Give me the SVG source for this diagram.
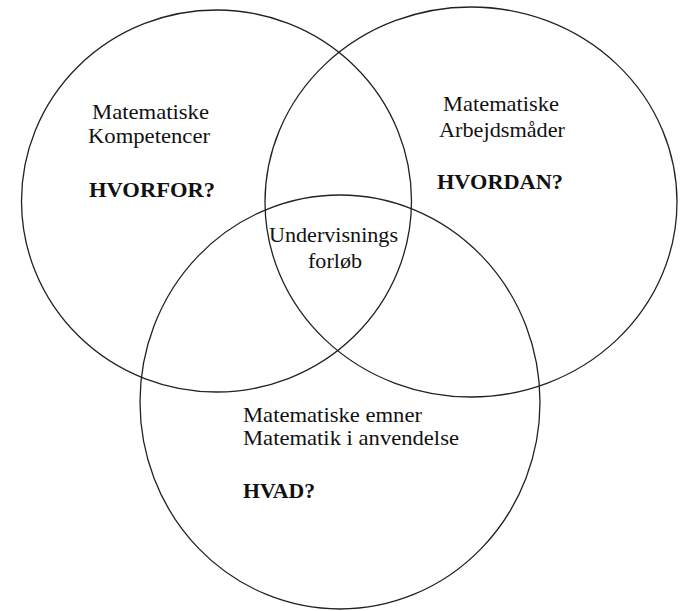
<svg xmlns="http://www.w3.org/2000/svg" width="683" height="611" viewBox="0 0 683 611">
<style>
.c{fill:none;stroke:#222;stroke-width:1.3}
.t{font-family:'Liberation Serif','DejaVu Serif',serif;font-size:21px;fill:#111}
.b{font-weight:bold}
</style>
<rect width="683" height="611" fill="#fff"/>
<g id="circle-kompetencer">
<ellipse class="c" cx="216.5" cy="201" rx="195" ry="191"/>
<text class="t" font-family="Liberation Serif, serif" x="92" y="119" textLength="117" lengthAdjust="spacingAndGlyphs">Matematiske</text>
<text class="t" font-family="Liberation Serif, serif" x="88" y="143" textLength="122" lengthAdjust="spacingAndGlyphs">Kompetencer</text>
<text class="t b" font-family="Liberation Serif, serif" x="89" y="197" textLength="126" lengthAdjust="spacingAndGlyphs">HVORFOR?</text>
</g>
<g id="circle-arbejdsmaader">
<ellipse class="c" cx="471" cy="202" rx="206" ry="195"/>
<text class="t" font-family="Liberation Serif, serif" x="443" y="111" textLength="116" lengthAdjust="spacingAndGlyphs">Matematiske</text>
<text class="t" font-family="Liberation Serif, serif" x="439" y="137" textLength="126" lengthAdjust="spacingAndGlyphs">Arbejdsmåder</text>
<text class="t b" font-family="Liberation Serif, serif" x="437" y="189" textLength="126" lengthAdjust="spacingAndGlyphs">HVORDAN?</text>
</g>
<g id="circle-emner">
<ellipse class="c" cx="340" cy="402" rx="200" ry="207"/>
<text class="t" font-family="Liberation Serif, serif" x="243" y="422" textLength="179" lengthAdjust="spacingAndGlyphs">Matematiske emner</text>
<text class="t" font-family="Liberation Serif, serif" x="243" y="445" textLength="216" lengthAdjust="spacingAndGlyphs">Matematik i anvendelse</text>
<text class="t b" font-family="Liberation Serif, serif" x="243" y="498" textLength="72" lengthAdjust="spacingAndGlyphs">HVAD?</text>
</g>
<g id="center">
<text class="t" font-family="Liberation Serif, serif" x="269" y="242" textLength="129" lengthAdjust="spacingAndGlyphs">Undervisnings</text>
<text class="t" font-family="Liberation Serif, serif" x="308" y="268" textLength="54" lengthAdjust="spacingAndGlyphs">forløb</text>
</g>
</svg>
